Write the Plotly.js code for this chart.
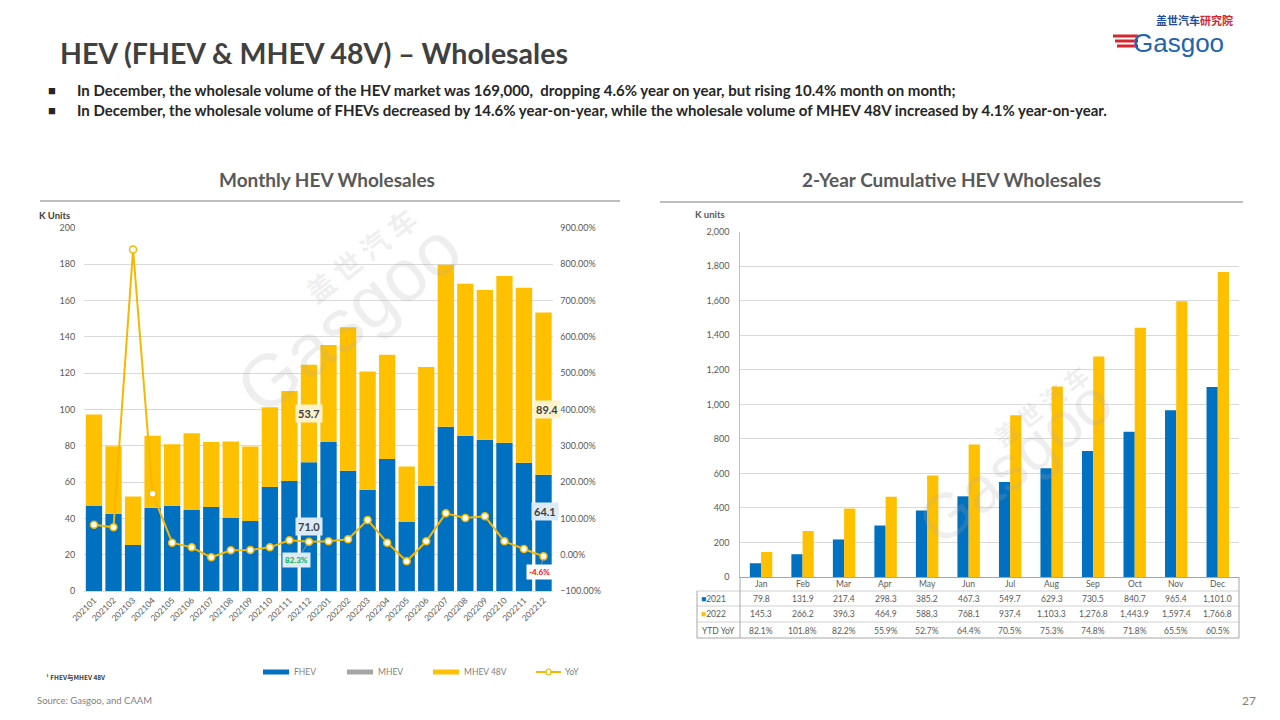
<!DOCTYPE html>
<html>
<head>
<meta charset="utf-8">
<script src="https://cdn.plot.ly/plotly-3.0.1.min.js"></script>
<style>html,body{margin:0;padding:0;background:#fff;}#chart{width:1280px;height:720px;}</style>
</head>
<body>
<div id="chart"></div>
<script>
// ---------- data ----------
const months = ['202101','202102','202103','202104','202105','202106','202107','202108','202109','202110','202111','202112',
                '202201','202202','202203','202204','202205','202206','202207','202208','202209','202210','202211','202212'];
const fhev = [46.8,42.6,25.3,45.9,47.0,44.6,46.3,40.2,38.6,57.3,60.6,71.0,
              82.1,66.3,55.8,72.7,38.0,57.9,90.5,85.6,83.4,81.7,70.7,64.1];
const mhev48 = [50.5,37.2,26.8,39.6,33.9,42.3,35.8,42.2,41.0,43.9,49.6,53.7,
                53.5,79.0,65.1,57.4,30.6,65.5,89.3,83.7,82.5,91.8,96.4,89.4];
const yoy = [82.6,75.4,841,168,33.1,20.3,-7.2,12.1,12.9,20.3,39.6,35.8,
             36.9,42.4,95.6,33.1,-18.2,36.9,114,101,105.7,36.9,15.7,-4.6];
const seriesNames = ['FHEV','MHEV','MHEV 48V','YoY'];
const valueLabels = ['202112','202212'];          // bars with value labels
const yoyCallouts = [['202112','82.3%'],['202212','-4.6%']];

const cumMonths = ['Jan','Feb','Mar','Apr','May','Jun','Jul','Aug','Sep','Oct','Nov','Dec'];
const cum2021 = [79.8,131.9,217.4,298.3,385.2,467.3,549.7,629.3,730.5,840.7,965.4,1101.0];
const cum2022 = [145.3,266.2,396.3,464.9,588.3,768.1,937.4,1103.3,1276.8,1443.9,1597.4,1766.8];
const ytdYoY = ['82.1%','101.8%','82.2%','55.9%','52.7%','64.4%','70.5%','75.3%','74.8%','71.8%','65.5%','60.5%'];
const yearNames = ['2021','2022'];

// ---------- style ----------
const BLUE = '#0070C0', YELLOW = '#FFC000', GRAY = '#A5A5A5', LINE = '#F5B800';
const FONT = 'Lato, "Open Sans", "Noto Sans", sans-serif';
const TXT = '#595959';
const X = px => px / 1280, Y = py => 1 - py / 720;

// ---------- traces ----------
const traces = [
  {type:'bar', x:months, y:fhev, name:seriesNames[0], marker:{color:BLUE}, offsetgroup:'m',
   xaxis:'x', yaxis:'y', hoverinfo:'skip'},
  {type:'bar', x:months, y:mhev48, base:fhev, name:seriesNames[2], marker:{color:YELLOW}, offsetgroup:'m',
   xaxis:'x', yaxis:'y', hoverinfo:'skip'},
  {type:'scatter', mode:'lines+markers', x:months, y:yoy, name:seriesNames[3], xaxis:'x', yaxis:'y2',
   line:{color:LINE, width:2}, marker:{size:7, color:'#ffffff', line:{color:LINE, width:1.5}}, hoverinfo:'skip'},
  {type:'bar', x:cumMonths, y:cum2021, name:yearNames[0], marker:{color:BLUE}, width:0.27, offset:-0.27,
   xaxis:'x3', yaxis:'y3', hoverinfo:'skip'},
  {type:'bar', x:cumMonths, y:cum2022, name:yearNames[1], marker:{color:YELLOW}, width:0.27, offset:0,
   xaxis:'x3', yaxis:'y3', hoverinfo:'skip'}
];

// ---------- annotations ----------
const ann = [];
const A = o => ann.push(Object.assign({showarrow:false, xref:'paper', yref:'paper', xanchor:'center', yanchor:'middle',
                                       font:{family:FONT, size:9, color:TXT}}, o));

// watermarks (drawn first, underneath other texts)
const WM = 'rgba(170,170,170,0.2)';
A({x:X(360), y:Y(255), text:'<b>盖 世 汽 车</b>', textangle:-38, font:{family:'"Noto Sans CJK SC", sans-serif', size:28, color:WM}});
A({x:X(348), y:Y(318), text:'Gasgoo', textangle:-38, font:{family:'"Liberation Sans", sans-serif', size:74, color:WM}});
A({x:X(1040), y:Y(405), text:'<b>盖 世 汽 车</b>', textangle:-38, font:{family:'"Noto Sans CJK SC", sans-serif', size:24, color:WM}});
A({x:X(1015), y:Y(462), text:'Gasgoo', textangle:-38, font:{family:'"Liberation Sans", sans-serif', size:64, color:WM}});

A({x:X(58), y:Y(53), xanchor:'left', text:'<b>HEV (FHEV &amp; MHEV 48V) – Wholesales</b>',
   font:{family:FONT, size:28.5, color:'#404040'}});
const bullets = ['In December, the wholesale volume of the HEV market was 169,000,  dropping 4.6% year on year, but rising 10.4% month on month;',
                 'In December, the wholesale volume of FHEVs decreased by 14.6% year-on-year, while the wholesale volume of MHEV 48V increased by 4.1% year-on-year.'];
bullets.forEach((t,i) => {
  A({x:X(46), y:Y(90 + i*20), xanchor:'left', text:'■', font:{family:FONT, size:13, color:'#262626'}});
  A({x:X(75), y:Y(90 + i*20), xanchor:'left', text:'<b>'+t+'</b>', font:{family:FONT, size:15, color:'#262626'}});
});
A({x:X(327), y:Y(179), text:'<b>Monthly HEV Wholesales</b>', font:{family:FONT, size:19, color:TXT}});
A({x:X(951), y:Y(179), text:'<b>2-Year Cumulative HEV Wholesales</b>', font:{family:FONT, size:19, color:TXT}});
A({x:X(37), y:Y(215), xanchor:'left', text:'<b>K Units</b>', font:{family:FONT, size:9.5, color:'#404040'}});
A({x:X(693), y:Y(214), xanchor:'left', text:'<b>K units</b>', font:{family:FONT, size:9.5, color:TXT}});

// legend (manual)
const legendX = [263, 347, 433, 536];
seriesNames.forEach((n, i) => {
  A({x:X(legendX[i] + (i === 3 ? 27 : 29)), y:Y(672), xanchor:'left', text:n, font:{family:FONT, size:8.5, color:'#7f7f7f'}});
});

A({x:X(44), y:Y(677), xanchor:'left', text:'<b>¹ FHEV与MHEV 48V</b>', font:{family:'"Noto Sans CJK SC", '+FONT, size:6.5, color:'#404040'}});
A({x:X(35), y:Y(700), xanchor:'left', text:'Source: Gasgoo, and CAAM', font:{family:FONT, size:9.5, color:'#7f7f7f'}});
A({x:X(1258), y:Y(700), xanchor:'right', text:'27', font:{family:FONT, size:12, color:'#7f7f7f'}});

// logo
A({x:X(1154), y:Y(20), xanchor:'left',
   text:'<b><span style="color:#1F4E9A">盖世汽车</span><span style="color:#D7262E">研究院</span></b>',
   font:{family:'"Noto Sans CJK SC", sans-serif', size:11, color:'#1F4E9A'}});
A({x:X(1131), y:Y(43), xanchor:'left', text:'Gasgoo', font:{family:'"Liberation Sans", sans-serif', size:26, color:'#2263AE'}});

// bar value labels
valueLabels.forEach((m, k) => {
  const i = months.indexOf(m);
  ann.push({xref:'x', yref:'y', x:i, y:fhev[i] + mhev48[i]/2, yshift: k ? -16 : 0, xshift: k ? 3 : 0, showarrow:false,
            xanchor:'center', yanchor:'middle',
            text:'<b>'+mhev48[i].toFixed(1)+'</b>', bgcolor:'#FFF2CC', borderpad:2,
            font:{family:FONT, size:11, color:'#404040'}});
  ann.push({xref:'x', yref:'y', x:i, y:fhev[i]/2, yshift: k ? 21 : 0, xshift: k ? 1 : 0, showarrow:false,
            xanchor:'center', yanchor:'middle',
            text:'<b>'+fhev[i].toFixed(1)+'</b>', bgcolor:'#DDEBF7', borderpad:2,
            font:{family:FONT, size:11, color:'#404040'}});
});
yoyCallouts.forEach(([m, t], k) => {
  const i = months.indexOf(m);
  ann.push({xref:'x', yref:'y2', x:i, y:yoy[i], showarrow:true, arrowhead:0, arrowwidth:0.7, arrowcolor:'#b0b0b0',
            ax: k ? -4 : -12, ay: k ? 16 : 18, standoff:3, text:'<b>'+t+'</b>',
            bgcolor: k ? '#ffffff' : '#DDEBF7', borderpad:2,
            font:{family:FONT, size:8, color: k ? '#FF0000' : '#00B050'}});
});

// table
const rowY = [584, 598.5, 614, 630.5];
const fmt1 = v => v.toLocaleString('en-US',{minimumFractionDigits:1, maximumFractionDigits:1});
cumMonths.forEach((m, i) => {
  const cell = (y, t) => ann.push({xref:'x3', yref:'paper', x:i, y:Y(y), xanchor:'center', yanchor:'middle',
                                   showarrow:false, text:t, font:{family:FONT, size:8.5, color:TXT}});
  cell(rowY[0], m);
  cell(rowY[1], fmt1(cum2021[i]));
  cell(rowY[2], fmt1(cum2022[i]));
  cell(rowY[3], ytdYoY[i]);
});
A({x:X(699), y:Y(rowY[1]), xanchor:'left', text:'<span style="color:'+BLUE+'">■</span>'+yearNames[0], font:{family:FONT, size:8.5, color:TXT}});
A({x:X(699), y:Y(rowY[2]), xanchor:'left', text:'<span style="color:'+YELLOW+'">■</span>'+yearNames[1], font:{family:FONT, size:8.5, color:TXT}});
A({x:X(737), y:Y(rowY[3]), xanchor:'right', text:'YTD YoY', font:{family:FONT, size:8.5, color:TXT}});

// ---------- shapes ----------
const shapes = [];
const L = (x0,y0,x1,y1,c,w) => shapes.push({type:'line', xref:'paper', yref:'paper', x0:X(x0), y0:Y(y0), x1:X(x1), y1:Y(y1), line:{color:c, width:w}});
const R = (x0,y0,x1,y1,c) => shapes.push({type:'rect', xref:'paper', yref:'paper', x0:X(x0), y0:Y(y0), x1:X(x1), y1:Y(y1), fillcolor:c, line:{width:0}});
L(40,201,620,201,'#7f7f7f',1.2);
L(660,202,1243,202,'#7f7f7f',1.2);
R(legendX[0],669.5,legendX[0]+26,674.5,BLUE);
R(legendX[1],669.5,legendX[1]+26,674.5,GRAY);
R(legendX[2],669.5,legendX[2]+26,674.5,YELLOW);
L(legendX[3],672,legendX[3]+25,672,LINE,2);
shapes.push({type:'circle', xref:'paper', yref:'paper', x0:X(legendX[3]+10), y0:Y(669), x1:X(legendX[3]+15), y1:Y(675), fillcolor:'#fff', line:{color:LINE, width:1.2}});
// table grid
const TC = '#a6a6a6';
[591, 606, 622].forEach(y => L(697,y,1239,y,'#d0d0d0',1));
L(697,638,1239,638,TC,1);
L(697,591,697,638,TC,1);
L(740,577,740,638,TC,1);
L(1239,577,1239,638,TC,1);
// logo stripes
[36,41,46].forEach((y,i) => L(1113+i*2,y,1138,y,'#D7262E',3));

// ---------- layout ----------
const tickF = {family:FONT, size:9, color:TXT};
const layout = {
  width:1280, height:720, margin:{l:0,r:0,t:0,b:0}, paper_bgcolor:'#fff', plot_bgcolor:'rgba(0,0,0,0)',
  showlegend:false, barmode:'group', bargap:0.165,
  font:{family:FONT, color:TXT},
  xaxis:{domain:[X(84.2), X(553.3)], anchor:'y', type:'category', range:[-0.5, months.length - 0.5], autorange:false,
         tickangle:-45, tickfont:{family:FONT, size:8.5, color:TXT},
         showgrid:false, showline:true, linecolor:'#d9d9d9', ticks:'', fixedrange:true},
  yaxis:{domain:[Y(591), Y(228)], range:[0,200], dtick:20, tickfont:tickF, gridcolor:'#d9d9d9', gridwidth:1,
         zeroline:false, showline:false, ticks:'', ticklabelstandoff:8, fixedrange:true},
  yaxis2:{overlaying:'y', side:'right', anchor:'x', range:[-100,900], dtick:100, tickformat:'.2f', ticksuffix:'%',
          tickfont:tickF, showgrid:false, zeroline:false, showline:false, ticks:'', ticklabelstandoff:6, fixedrange:true},
  xaxis3:{domain:[X(740.3), X(1238.5)], anchor:'y3', type:'category', range:[-0.5, cumMonths.length - 0.5], autorange:false,
          showticklabels:false, showgrid:false, showline:true, linecolor:TC, ticks:'', fixedrange:true},
  yaxis3:{domain:[Y(577), Y(231.7)], anchor:'x3', range:[0,2000], dtick:200, tickformat:',d', tickfont:tickF,
          gridcolor:'#d9d9d9', zeroline:false, showline:true, linecolor:'#bfbfbf', ticks:'', ticklabelstandoff:8, fixedrange:true},
  annotations:ann, shapes:shapes
};
Plotly.newPlot('chart', traces, layout, {staticPlot:true, displayModeBar:false});
</script>
</body>
</html>
